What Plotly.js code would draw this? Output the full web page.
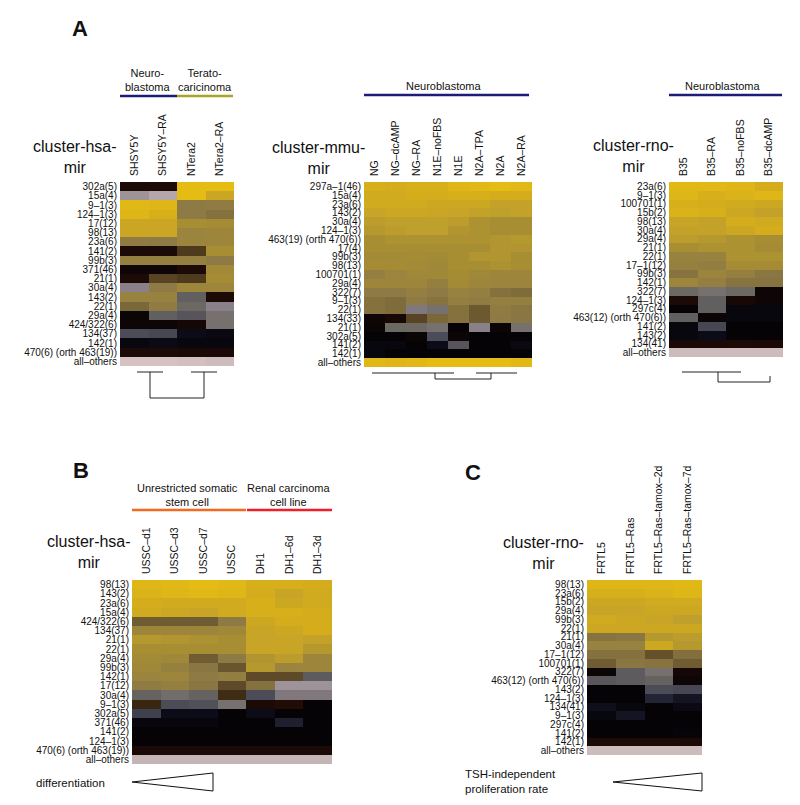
<!DOCTYPE html>
<html>
<head>
<meta charset="utf-8">
<script src="https://cdn.plot.ly/plotly-3.0.1.min.js"></script>
<style>
  html, body { margin: 0; padding: 0; background: #fff; }
  #chart { width: 800px; height: 805px; }
</style>
</head>
<body>
<div id="chart"></div>
<script>
// miRNA cluster expression heatmaps, panels A (hsa / mmu / rno), B, C
// value > 0 : yellow ramp (black -> brown -> olive -> yellow)
// value < 0 : grey ramp  (black -> slate -> mauve -> pale pink)

const aHsaCols = ['SHSY5Y', 'SHSY5Y–RA', 'NTera2', 'NTera2–RA'];
const aHsaRows = ['302a(5)', '15a(4)', '9–1(3)', '124–1(3)', '17(12)', '98(13)', '23a(6)', '141(2)',
  '99b(3)', '371(46)', '21(1)', '30a(4)', '143(2)', '22(1)', '29a(4)', '424/322(6)', '134(37)',
  '142(1)', '470(6) (orth 463(19))', 'all–others'];
const aHsaZ = [
  [0.08, 0.08, 1.0, 1.0],
  [-0.7, -0.8, 1.0, 0.85],
  [0.98, 0.96, 0.5, 0.52],
  [0.96, 0.92, 0.5, 0.45],
  [0.85, 0.85, 0.7, 0.68],
  [0.85, 0.85, 0.6, 0.62],
  [0.52, 0.5, 0.6, 0.62],
  [0.08, 0.08, 0.25, 0.7],
  [0.55, 0.55, 0.55, 0.5],
  [0.03, 0.03, 0.08, 0.65],
  [0.08, 0.28, 0.25, 0.68],
  [-0.6, 0.5, 0.62, 0.62],
  [0.58, 0.58, -0.4, 0.08],
  [0.4, 0.52, -0.45, -0.6],
  [0.02, -0.4, -0.35, -0.5],
  [0.03, 0.03, 0.05, -0.5],
  [-0.3, -0.28, -0.05, -0.03],
  [-0.02, -0.04, -0.02, -0.02],
  [0.08, 0.08, 0.07, 0.07],
  [-1, -1, -0.98, -0.95]
];

const aMmuCols = ['NG', 'NG–dcAMP', 'NG–RA', 'N1E–noFBS', 'N1E', 'N2A–TPA', 'N2A', 'N2A–RA'];
const aMmuRows = ['297a–1(46)', '15a(4)', '23a(6)', '143(2)', '30a(4)', '124–1(3)', '463(19) (orth 470(6))',
  '17(4)', '99b(3)', '98(13)', '100701(1)', '29a(4)', '322(7)', '9–1(3)', '22(1)', '134(33)', '21(1)',
  '302a(5)', '141(2)', '142(1)', 'all–others'];
const aMmuZ = [
  [0.92, 0.9, 0.92, 0.92, 0.96, 0.98, 1.0, 0.98],
  [0.88, 0.88, 0.9, 0.9, 0.92, 0.92, 0.9, 0.9],
  [0.88, 0.88, 0.88, 0.86, 0.86, 0.86, 0.82, 0.82],
  [0.84, 0.86, 0.86, 0.85, 0.84, 0.82, 0.8, 0.82],
  [0.78, 0.8, 0.8, 0.8, 0.78, 0.72, 0.7, 0.7],
  [0.76, 0.78, 0.8, 0.8, 0.74, 0.72, 0.7, 0.7],
  [0.7, 0.72, 0.72, 0.72, 0.72, 0.72, 0.74, 0.76],
  [0.7, 0.7, 0.7, 0.7, 0.7, 0.7, 0.74, 0.74],
  [0.66, 0.66, 0.68, 0.66, 0.7, 0.74, 0.74, 0.7],
  [0.68, 0.68, 0.66, 0.64, 0.7, 0.7, 0.72, 0.7],
  [0.55, 0.6, 0.64, 0.64, 0.68, 0.64, 0.62, 0.62],
  [0.62, 0.62, 0.62, 0.55, 0.66, 0.62, 0.6, 0.6],
  [0.5, 0.5, 0.55, 0.5, 0.58, 0.55, 0.45, 0.42],
  [0.45, 0.42, 0.5, 0.46, 0.55, 0.52, 0.55, 0.55],
  [0.45, 0.42, -0.55, -0.5, 0.45, 0.35, 0.52, 0.48],
  [0.03, 0.06, 0.28, 0.4, 0.45, 0.35, 0.5, 0.48],
  [0.02, -0.45, -0.45, -0.5, 0.0, -0.6, 0.02, -0.5],
  [0.0, 0.0, 0.02, -0.3, 0.02, 0.0, 0.0, 0.0],
  [-0.02, -0.02, 0.0, -0.05, -0.35, 0.0, 0.0, -0.03],
  [-0.02, 0.0, 0.0, 0.0, 0.0, 0.0, 0.0, 0.0],
  [0.98, 0.96, 0.98, 1.0, 1.0, 1.0, 1.0, 0.98]
];

const aRnoCols = ['B35', 'B35–RA', 'B35–noFBS', 'B35–dcAMP'];
const aRnoRows = ['23a(6)', '9–1(3)', '100701(1)', '15b(2)', '98(13)', '30a(4)', '29a(4)', '21(1)', '22(1)',
  '17–1(12)', '99b(3)', '142(1)', '322(7)', '124–1(3)', '297c(4)', '463(12) (orth 470(6))', '141(2)',
  '143(2)', '134(41)', 'all–others'];
const aRnoZ = [
  [0.98, 0.98, 0.96, 0.9],
  [0.96, 0.92, 0.94, 0.96],
  [0.92, 0.9, 0.88, 0.86],
  [0.94, 0.92, 0.86, 0.82],
  [0.84, 0.82, 0.9, 0.88],
  [0.82, 0.82, 0.86, 0.9],
  [0.78, 0.76, 0.72, 0.7],
  [0.7, 0.72, 0.72, 0.68],
  [0.58, 0.58, 0.72, 0.72],
  [0.56, 0.54, 0.68, 0.68],
  [0.46, 0.6, 0.55, 0.48],
  [0.62, 0.55, 0.46, 0.46],
  [-0.45, -0.5, -0.45, 0.03],
  [0.08, -0.4, 0.06, 0.03],
  [0.0, -0.4, -0.02, -0.02],
  [-0.4, 0.02, -0.02, -0.02],
  [-0.02, -0.28, 0.0, 0.0],
  [-0.02, -0.05, 0.0, 0.0],
  [0.07, 0.07, 0.08, 0.07],
  [-0.95, -0.95, -0.95, -0.95]
];

const bHsaCols = ['USSC–d1', 'USSC–d3', 'USSC–d7', 'USSC', 'DH1', 'DH1–6d', 'DH1–3d'];
const bHsaRows = ['98(13)', '143(2)', '23a(6)', '15a(4)', '424/322(6)', '134(37)', '21(1)', '22(1)', '29a(4)',
  '99b(3)', '142(1)', '17(12)', '30a(4)', '9–1(3)', '302a(5)', '371(46)', '141(2)', '124–1(3)',
  '470(6) (orth 463(19))', 'all–others'];
const bHsaZ = [
  [0.96, 0.98, 1.0, 0.98, 0.92, 0.92, 0.9],
  [0.94, 0.96, 0.98, 0.96, 0.9, 0.84, 0.88],
  [0.9, 0.88, 0.88, 0.88, 0.92, 0.86, 0.88],
  [0.88, 0.86, 0.84, 0.88, 0.92, 0.92, 0.9],
  [0.36, 0.36, 0.36, 0.5, 0.86, 0.9, 0.9],
  [0.62, 0.62, 0.62, 0.64, 0.84, 0.86, 0.9],
  [0.76, 0.74, 0.72, 0.7, 0.84, 0.84, 0.82],
  [0.7, 0.7, 0.7, 0.7, 0.84, 0.84, 0.76],
  [0.66, 0.64, 0.36, 0.5, 0.74, 0.78, 0.62],
  [0.64, 0.56, 0.48, 0.34, 0.76, 0.6, 0.62],
  [0.6, 0.62, 0.5, 0.54, 0.3, 0.3, -0.38],
  [0.52, 0.55, 0.48, 0.3, 0.45, -0.7, -0.7],
  [-0.42, -0.48, -0.42, 0.2, -0.3, -0.55, -0.55],
  [0.18, -0.3, -0.32, -0.5, 0.08, 0.1, 0.0],
  [-0.25, -0.05, -0.05, 0.0, -0.05, 0.0, 0.0],
  [-0.02, -0.02, -0.02, 0.0, 0.0, -0.12, 0.0],
  [0.0, 0.0, 0.0, 0.0, 0.0, 0.0, 0.0],
  [0.0, 0.0, 0.0, 0.0, 0.0, 0.0, 0.0],
  [0.07, 0.07, 0.07, 0.07, 0.07, 0.07, 0.07],
  [-0.9, -0.9, -0.9, -0.9, -0.9, -0.9, -0.9]
];

const cRnoCols = ['FRTL5', 'FRTL5–Ras', 'FRTL5–Ras–tamox–2d', 'FRTL5–Ras–tamox–7d'];
const cRnoRows = ['98(13)', '23a(6)', '15b(2)', '29a(4)', '99b(3)', '22(1)', '21(1)', '30a(4)', '17–1(12)',
  '100701(1)', '322(7)', '463(12) (orth 470(6))', '143(2)', '124–1(3)', '134(41)', '9–1(3)', '297c(4)',
  '141(2)', '142(1)', 'all–others'];
const cRnoZ = [
  [0.96, 0.96, 0.96, 0.98],
  [0.92, 0.92, 0.94, 0.96],
  [0.86, 0.86, 0.88, 0.88],
  [0.84, 0.84, 0.86, 0.86],
  [0.88, 0.86, 0.84, 0.8],
  [0.86, 0.86, 0.86, 0.86],
  [0.46, 0.48, 0.76, 0.78],
  [0.58, 0.58, 0.86, 0.76],
  [0.45, 0.45, 0.32, 0.44],
  [0.36, 0.48, 0.46, 0.36],
  [0.02, -0.38, -0.5, 0.05],
  [-0.36, -0.38, -0.42, 0.03],
  [0.0, 0.0, -0.3, -0.28],
  [0.0, 0.0, -0.14, -0.08],
  [-0.06, -0.02, 0.0, -0.04],
  [-0.02, -0.08, 0.0, 0.0],
  [0.0, 0.0, 0.0, 0.0],
  [0.0, 0.0, 0.0, -0.01],
  [0.08, 0.08, 0.08, 0.08],
  [-0.95, -0.95, -0.95, -0.95]
];

// colour ramp, z from -1 (pale pink) through 0 (black) to 1 (yellow)
const colorscale = [
  [0.000, '#d6c2c0'], [0.100, '#b4a6aa'], [0.200, '#8a808a'], [0.275, '#6c6862'],
  [0.350, '#4c4c58'], [0.425, '#26283a'], [0.475, '#0c0c18'], [0.500, '#060306'],
  [0.550, '#220c06'], [0.600, '#3e2c14'], [0.650, '#5e4a28'], [0.700, '#7a6838'],
  [0.750, '#8e7a44'], [0.800, '#9a843e'], [0.850, '#a88e32'], [0.900, '#c0a02c'],
  [0.950, '#d4ac1c'], [1.000, '#e4bc14']
];

const W = 800, H = 805;
const FONT = 'Liberation Sans, Arial, Helvetica, sans-serif';
const px = x => x / W;
const py = y => 1 - y / H;

// heatmap boxes in pixels: [left, top, right, bottom]
const boxes = [
  [120, 182, 234, 366],
  [364, 182, 532, 367],
  [669, 182, 783, 357],
  [132, 580, 332, 764],
  [587, 580, 702, 755]
];
const sets = [
  [aHsaCols, aHsaRows, aHsaZ],
  [aMmuCols, aMmuRows, aMmuZ],
  [aRnoCols, aRnoRows, aRnoZ],
  [bHsaCols, bHsaRows, bHsaZ],
  [cRnoCols, cRnoRows, cRnoZ]
];

const data = [];
const layout = {
  width: W, height: H,
  margin: { l: 0, r: 0, t: 0, b: 0 },
  paper_bgcolor: '#fff', plot_bgcolor: '#fff',
  font: { family: FONT, color: '#111', size: 11 },
  showlegend: false,
  annotations: [],
  shapes: []
};

sets.forEach(([cols, rows, z], i) => {
  const n = i === 0 ? '' : String(i + 1);
  const b = boxes[i];
  data.push({
    type: 'heatmap', x: cols, y: rows, z: z,
    xaxis: 'x' + n, yaxis: 'y' + n,
    zmin: -1, zmax: 1, colorscale: colorscale, showscale: false,
    hoverinfo: 'x+y+z'
  });
  layout['xaxis' + n] = {
    domain: [px(b[0]), px(b[2])], anchor: 'y' + n, side: 'top',
    tickangle: -90, tickfont: { size: 10.5, family: FONT }, ticks: '',
    ticklabelstandoff: 5,
    showgrid: false, zeroline: false, showline: false, fixedrange: true
  };
  layout['yaxis' + n] = {
    domain: [py(b[3]), py(b[1])], anchor: 'x' + n, autorange: 'reversed',
    tickmode: 'array', tickvals: rows, ticktext: rows,
    tickfont: { size: 10, family: FONT }, ticks: '', ticklabelstandoff: 2,
    showgrid: false, zeroline: false, showline: false, fixedrange: true
  };
});

function note(text, x, y, size, opts) {
  layout.annotations.push(Object.assign({
    text: text, x: px(x), y: py(y), xref: 'paper', yref: 'paper',
    showarrow: false, xanchor: 'center', yanchor: 'middle', align: 'center',
    font: { family: FONT, size: size, color: '#111' }
  }, opts || {}));
}
function line(x0, y0, x1, y1, color, width) {
  layout.shapes.push({
    type: 'line', xref: 'paper', yref: 'paper',
    x0: px(x0), y0: py(y0), x1: px(x1), y1: py(y1),
    line: { color: color || '#222', width: width || 1 }
  });
}
function path(pts) {
  const d = pts.map((p, k) => (k ? 'L' : 'M') + px(p[0]) + ',' + py(p[1])).join(' ') + ' Z';
  layout.shapes.push({ type: 'path', xref: 'paper', yref: 'paper', path: d,
    line: { color: '#111', width: 1 }, fillcolor: 'rgba(0,0,0,0)' });
}

// panel letters
note('<b>A</b>', 80, 28, 22);
note('<b>B</b>', 81, 470, 22);
note('<b>C</b>', 473, 473, 22);

// row-axis titles
note('cluster-hsa-<br>mir', 75, 157, 16);
note('cluster-mmu-<br>mir', 318, 158, 16);
note('cluster-rno-<br>mir', 633, 156, 16);
note('cluster-hsa-<br>mir', 89, 552, 16);
note('cluster-rno-<br>mir', 543, 553, 16);

// group headers
note('Neuro-<br>blastoma', 148, 80, 11);
note('Terato-<br>caricinoma', 205, 80, 11);
line(120, 96, 177, 96, '#1c1c78', 2.5);
line(177, 96, 233, 96, '#a8a428', 2.5);
note('Neuroblastoma', 443, 86, 11);
line(364, 95, 529, 95, '#1c1c78', 2.5);
note('Neuroblastoma', 722, 86, 11);
line(669, 95, 782, 95, '#1c1c78', 2.5);
note('Unrestricted somatic<br>stem cell', 187, 495, 11);
note('Renal carcinoma<br>cell line', 288, 495, 11);
line(132, 510, 246, 510, '#f26a22', 2.5);
line(247, 510, 332, 510, '#ee1f2a', 2.5);

// dendrograms under panel A
line(137, 372, 163, 372); line(191, 372, 217, 372);
line(150, 372, 150, 398); line(150, 398, 204, 398); line(204, 398, 204, 372);
line(372, 373, 454, 373); line(476, 373, 517, 373);
line(435, 373, 435, 379); line(435, 379, 491, 379); line(491, 379, 491, 373);
line(682, 372, 741, 372);
line(718, 372, 718, 382); line(718, 382, 770, 382); line(770, 382, 770, 376);

// wedges
note('differentiation', 70, 783, 11.5);
path([[132, 782], [213, 773], [213, 791]]);
note('TSH-independent<br>proliferation rate', 463, 781, 11.5, { xanchor: 'left', align: 'left' });
path([[613, 782], [702, 773], [702, 791]]);

Plotly.newPlot('chart', data, layout, { displayModeBar: false, staticPlot: true });
</script>
</body>
</html>
